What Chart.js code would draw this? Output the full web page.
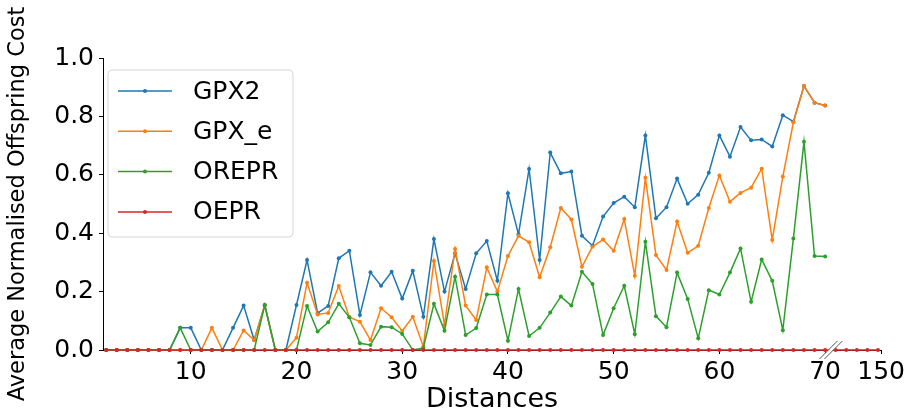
<!DOCTYPE html>
<html>
<head>
<meta charset="utf-8">
<script src="https://cdn.jsdelivr.net/npm/chart.js@4.4.0/dist/chart.umd.min.js"></script>
<style>
  html, body { margin: 0; padding: 0; background: #fff; }
</style>
</head>
<body>
<canvas id="costChart" width="908" height="413"></canvas>
<script>
// distances 2..70 on the left part of the broken axis
const distances = [2, 3, 4, 5, 6, 7, 8, 9, 10, 11, 12, 13, 14, 15, 16, 17, 18, 19, 20,
  21, 22, 23, 24, 25, 26, 27, 28, 29, 30, 31, 32, 33, 34, 35, 36, 37, 38, 39, 40,
  41, 42, 43, 44, 45, 46, 47, 48, 49, 50, 51, 52, 53, 54, 55, 56, 57, 58, 59, 60,
  61, 62, 63, 64, 65, 66, 67, 68, 69, 70];

const gpx2 = [0, 0, 0, 0, 0, 0, 0, 0.076, 0.076, 0, 0, 0, 0.076, 0.152, 0.034, 0.153, 0, 0, 0.154,
  0.308, 0.126, 0.151, 0.314, 0.34, 0.12, 0.266, 0.22, 0.268, 0.176, 0.271, 0.114, 0.38, 0.2, 0.331, 0.209, 0.331, 0.373, 0.237, 0.537,
  0.396, 0.62, 0.308, 0.676, 0.605, 0.611, 0.391, 0.357, 0.457, 0.503, 0.525, 0.489, 0.735, 0.451, 0.489, 0.587, 0.501, 0.532, 0.607, 0.735,
  0.662, 0.764, 0.718, 0.721, 0.697, 0.804, 0.782, 0.904, 0.847, 0.837];

const gpxE = [0, 0, 0, 0, 0, 0, 0, 0, 0, 0, 0.076, 0, 0, 0.067, 0.034, 0.154, 0, 0, 0.042,
  0.23, 0.122, 0.127, 0.219, 0.112, 0.097, 0.034, 0.143, 0.112, 0.065, 0.114, 0.011, 0.305, 0.086, 0.346, 0.152, 0.103, 0.283, 0.2, 0.322,
  0.391, 0.369, 0.249, 0.352, 0.486, 0.447, 0.285, 0.354, 0.378, 0.34, 0.449, 0.254, 0.59, 0.325, 0.274, 0.44, 0.333, 0.357, 0.486, 0.598,
  0.508, 0.538, 0.556, 0.621, 0.377, 0.594, 0.78, 0.904, 0.847, 0.837];

const orepr = [0, 0, 0, 0, 0, 0, 0, 0.076, 0, 0, 0, 0, 0, 0, 0, 0.154, 0, 0, 0,
  0.151, 0.063, 0.095, 0.158, 0.112, 0.023, 0.017, 0.08, 0.078, 0.055, 0, 0.007, 0.158, 0.066, 0.251, 0.051, 0.075, 0.19, 0.19, 0.032,
  0.209, 0.048, 0.076, 0.128, 0.183, 0.152, 0.268, 0.226, 0.051, 0.143, 0.22, 0.054, 0.371, 0.116, 0.078, 0.265, 0.175, 0.04, 0.205, 0.19,
  0.265, 0.348, 0.165, 0.31, 0.237, 0.068, 0.382, 0.713, 0.322, 0.32];

// OEPR stays at zero, and runs past the axis break up to 150
const oeprTailPos = [71, 72, 73, 74, 75];
const oepr = [0, 0, 0, 0, 0, 0, 0, 0, 0, 0, 0, 0, 0, 0, 0, 0, 0, 0, 0,
  0, 0, 0, 0, 0, 0, 0, 0, 0, 0, 0, 0, 0, 0, 0, 0, 0, 0, 0, 0,
  0, 0, 0, 0, 0, 0, 0, 0, 0, 0, 0, 0, 0, 0, 0, 0, 0, 0, 0, 0,
  0, 0, 0, 0, 0, 0, 0, 0, 0, 0, 0, 0, 0, 0, 0];

const seriesNames = ['GPX2', 'GPX_e', 'OREPR', 'OEPR'];
const seriesColors = ['#1f77b4', '#ff7f0e', '#2ca02c', '#d62728'];

const xTicks = [10, 20, 30, 40, 50, 60, 70, 150];
const yTicks = [0, 0.2, 0.4, 0.6, 0.8, 1.0];
const farPos = 75.3;   // where "150" sits after the break
const breakPos = 70.5;

const toPoints = (xs, ys) => xs.map((x, i) => ({ x: x, y: ys[i] }));

function makeSet(i, pts) {
  return {
    label: seriesNames[i],
    data: pts,
    borderColor: seriesColors[i],
    backgroundColor: seriesColors[i],
    borderWidth: 1.5,
    pointRadius: 2,
    pointBorderWidth: 0,
    pointHoverRadius: 2,
    tension: 0,
    clip: false,
    order: 4 - i
  };
}

const legendBox = {
  id: 'legendBox',
  afterDatasetsDraw(chart) {
    const ctx = chart.ctx;
    ctx.save();
    // break marks on the x axis
    const bx = chart.scales.x.getPixelForValue(breakPos);
    const by = chart.scales.y.getPixelForValue(0);
    ctx.beginPath();
    ctx.moveTo(bx - 11, by + 9); ctx.lineTo(bx + 7, by - 9);
    ctx.lineTo(bx + 12, by - 9); ctx.lineTo(bx - 6, by + 9);
    ctx.closePath();
    ctx.fillStyle = '#fff';
    ctx.fill();
    ctx.strokeStyle = '#555';
    ctx.lineWidth = 1;
    ctx.beginPath();
    ctx.moveTo(bx - 11, by + 9); ctx.lineTo(bx + 7, by - 9);
    ctx.moveTo(bx - 6, by + 9); ctx.lineTo(bx + 12, by - 9);
    ctx.stroke();

    // legend
    const left = 108, top = 70, w = 185, h = 167, r = 4;
    ctx.beginPath();
    ctx.moveTo(left + r, top);
    ctx.arcTo(left + w, top, left + w, top + h, r);
    ctx.arcTo(left + w, top + h, left, top + h, r);
    ctx.arcTo(left, top + h, left, top, r);
    ctx.arcTo(left, top, left + w, top, r);
    ctx.closePath();
    ctx.fillStyle = 'rgba(255,255,255,0.8)';
    ctx.fill();
    ctx.strokeStyle = '#d6d6d6';
    ctx.stroke();
    ctx.font = '25px "DejaVu Sans"';
    ctx.textBaseline = 'middle';
    seriesNames.forEach((name, i) => {
      const y = 91 + i * 40.3;
      ctx.strokeStyle = seriesColors[i];
      ctx.lineWidth = 1.5;
      ctx.beginPath();
      ctx.moveTo(118, y); ctx.lineTo(172, y);
      ctx.stroke();
      ctx.fillStyle = seriesColors[i];
      ctx.beginPath();
      ctx.arc(145, y, 2, 0, Math.PI * 2);
      ctx.fill();
      ctx.fillStyle = '#000';
      ctx.fillText(name, 193, y + 1);
    });
    ctx.restore();
  }
};

new Chart(document.getElementById('costChart'), {
  type: 'line',
  data: {
    datasets: [
      makeSet(0, toPoints(distances, gpx2)),
      makeSet(1, toPoints(distances, gpxE)),
      makeSet(2, toPoints(distances, orepr)),
      makeSet(3, toPoints(distances.concat(oeprTailPos), oepr))
    ]
  },
  options: {
    responsive: false,
    animation: false,
    events: [],
    layout: { padding: { top: 58, right: 26, left: 0, bottom: 0 } },
    plugins: { legend: { display: false }, tooltip: { enabled: false } },
    scales: {
      x: {
        type: 'linear',
        min: 1.7,
        max: farPos,
        afterBuildTicks: (scale) => {
          scale.ticks = xTicks.map(v => ({ value: v === 150 ? farPos : v }));
        },
        afterFit: (scale) => { scale.height = 63; },
        ticks: {
          autoSkip: false,
          maxRotation: 0,
          padding: 3,
          color: '#000',
          font: { family: 'DejaVu Sans', size: 25 },
          callback: (v) => (v === farPos ? '150' : String(v))
        },
        grid: { drawOnChartArea: false, drawTicks: true, tickLength: 4, color: '#000' },
        border: { display: true, color: '#000', width: 1 },
        title: {
          display: true,
          text: 'Distances',
          color: '#000',
          font: { family: 'DejaVu Sans', size: 27, lineHeight: 1.0 },
          padding: { top: 0, bottom: 0 }
        }
      },
      y: {
        min: 0,
        max: 1,
        afterBuildTicks: (scale) => {
          scale.ticks = yTicks.map(v => ({ value: v }));
        },
        afterFit: (scale) => { scale.width = 103; },
        ticks: {
          padding: 5,
          color: '#000',
          font: { family: 'DejaVu Sans', size: 25 },
          callback: (v) => v.toFixed(1)
        },
        grid: { drawOnChartArea: false, drawTicks: true, tickLength: 4, color: '#000' },
        border: { display: true, color: '#000', width: 1 },
        title: {
          display: true,
          text: 'Average Normalised Offspring Cost',
          color: '#000',
          font: { family: 'DejaVu Sans', size: 22.5 },
          padding: { top: 5, bottom: 0 }
        }
      }
    }
  },
  plugins: [legendBox]
});
</script>
</body>
</html>
